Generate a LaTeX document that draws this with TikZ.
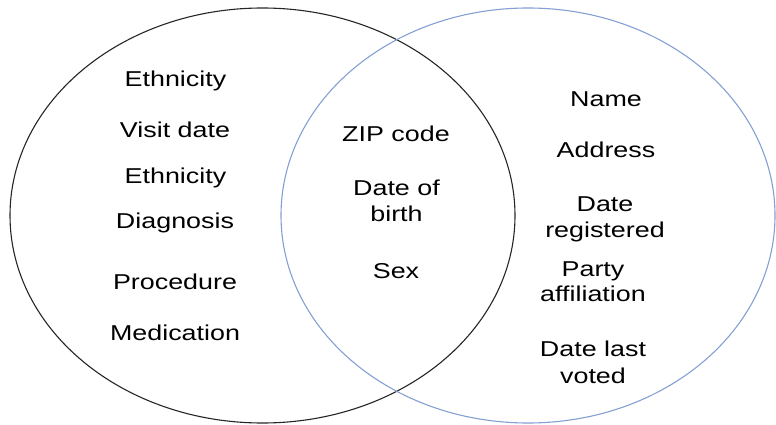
\documentclass[tikz,border=0pt]{standalone}
\usepackage{fontspec}
\setmainfont{Liberation Sans}[FakeStretch=1.25]
\begin{document}
\begin{tikzpicture}[x=1pt,y=-1pt,
  leftset/.style={draw=black!85, line width=1.1pt},
  rightset/.style={draw={rgb,255:red,132;green,160;blue,210}, line width=1.1pt},
  lbl/.style={anchor=base, align=center, inner sep=0pt,
    font=\fontsize{21.5pt}{26.5pt}\selectfont},
  lines/.style={font=\fontsize{21.5pt}{#1}\selectfont}]
\useasboundingbox (0,0) rectangle (776,425);
% the two overlapping sets
\draw[leftset]  (262.5,215.5) ellipse [x radius=252.5pt, y radius=207.5pt];
\draw[rightset] (528,215.5) ellipse [x radius=247pt, y radius=207.5pt];
% left-only attributes
\node[lbl] (eth1) at (175.5,86.7) {Ethnicity};
\node[lbl] (visit) at (175,137.3) {Visit date};
\node[lbl] (eth2) at (175.5,183.3) {Ethnicity};
\node[lbl] (diag) at (175,228.3) {Diagnosis};
\node[lbl] (proc) at (175,289.3) {Procedure};
\node[lbl] (med) at (175,340) {Medication};
% shared attributes (base anchor sits on the last line)
\node[lbl] (zip) at (396,141.7) {ZIP code};
\node[lbl] (dob) at (396.5,221.7) {Date of\\birth};
\node[lbl] (sex) at (396,278.5) {Sex};
% right-only attributes
\node[lbl] (name) at (606,106.7) {Name};
\node[lbl] (addr) at (606,157.5) {Address};
\node[lbl] (dreg) at (605,237.7) {Date\\registered};
\node[lbl, lines=25.7pt] (party) at (593,301.7) {Party\\affiliation};
\node[lbl] (dlv) at (593,383.3) {Date last\\voted};
\end{tikzpicture}
\end{document}
